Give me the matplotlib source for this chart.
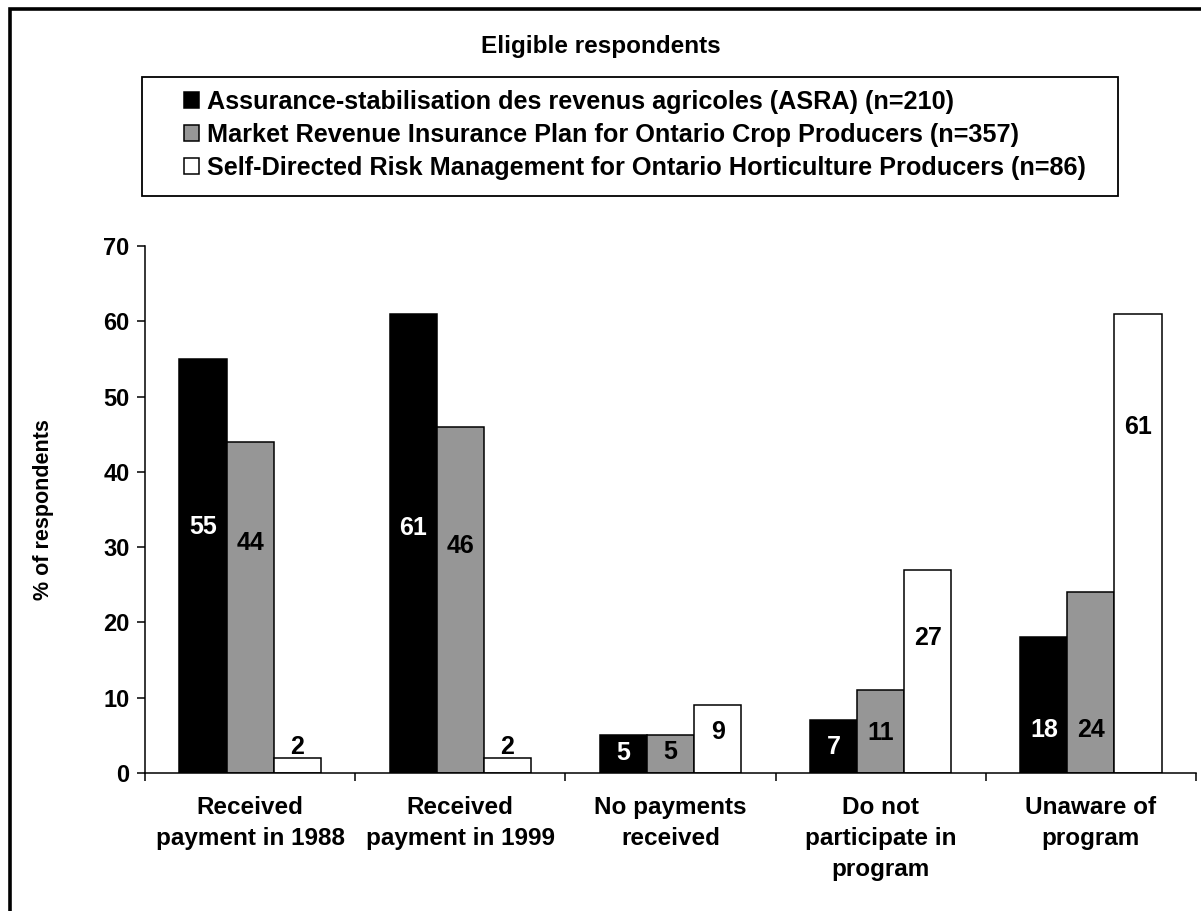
import matplotlib.pyplot as plt
import numpy as np
from matplotlib.patches import Rectangle, Patch

plt.rcParams['font.family'] = ['Liberation Sans', 'DejaVu Sans']
plt.rcParams['font.weight'] = 'bold'

categories = ['Received\npayment in 1988', 'Received\npayment in 1999',
              'No payments\nreceived', 'Do not\nparticipate in\nprogram',
              'Unaware of\nprogram']
series_names = ['Assurance-stabilisation des revenus agricoles (ASRA) (n=210)',
                'Market Revenue Insurance Plan for Ontario Crop Producers (n=357)',
                'Self-Directed Risk Management for Ontario Horticulture Producers (n=86)']
asra = [55, 61, 5, 7, 18]
mrip = [44, 46, 5, 11, 24]
sdrm = [2, 2, 9, 27, 61]

# where the value labels sit (data units), as placed in the original
asra_lab = [32.7, 32.5, 2.6, 3.4, 5.7]
mrip_lab = [30.5, 30.1, 2.8, 5.3, 5.7]
sdrm_lab = [3.5, 3.5, 5.4, 17.9, 46]

colors = ['black', '#969696', 'white']
text_colors = ['white', 'black', 'black']

fig = plt.figure(figsize=(12.01, 9.11), dpi=100)
ax = fig.add_axes([145/1201, 1-773/911, 1051/1201, (773-246)/911])

x = np.arange(len(categories))
w = 0.224
allvals = [asra, mrip, sdrm]
alllabs = [asra_lab, mrip_lab, sdrm_lab]
for i in range(3):
    pos = x + (i-1)*w
    ax.bar(pos, allvals[i], w, color=colors[i], edgecolor='black', linewidth=1.1)
    for j in range(len(x)):
        ax.text(pos[j], alllabs[i][j], str(allvals[i][j]), ha='center', va='center',
                fontsize=18, fontweight='bold', color=text_colors[i])

ax.set_xlim(-0.5, len(categories)-0.5)
ax.set_ylim(0, 70)
ax.set_yticks(np.arange(0, 71, 10))
ax.tick_params(axis='y', labelsize=17, length=6, width=1.1, direction='out', pad=5)
ax.set_xticks(np.arange(-0.5, len(categories)))
ax.set_xticklabels([])
ax.tick_params(axis='x', length=6, width=1.1, direction='out')
for j, c in enumerate(categories):
    ax.text(j, -3.0, c, ha='center', va='top', fontsize=17.5, fontweight='bold',
            linespacing=1.45)
ax.spines['top'].set_visible(False)
ax.spines['right'].set_visible(False)
ax.spines['left'].set_linewidth(1.1)
ax.spines['bottom'].set_linewidth(1.1)
ax.set_ylabel('% of respondents', fontsize=15.5, fontweight='bold', va='center')
ax.yaxis.set_label_coords(-0.097, 0.5)

fig.text(0.5, 1-47/911, 'Eligible respondents', ha='center', va='center',
         fontsize=17.5, fontweight='bold')

handles = [Patch(facecolor=colors[i], edgecolor='black', linewidth=1.1) for i in range(3)]
fig.legend(handles, series_names, loc='upper left',
           bbox_to_anchor=(184/1201, 1-90/911), frameon=False,
           handlelength=0.6, handleheight=0.6,
           handletextpad=0.32, labelspacing=0.36, borderpad=0, borderaxespad=0,
           prop={'weight': 'bold', 'size': 18.2})
fig.patches.append(Rectangle((142/1201, 1-196/911), (1118-142)/1201, (196-77)/911,
                             transform=fig.transFigure, fill=False,
                             edgecolor='black', linewidth=1.3))
# outer frame
fig.patches.append(Rectangle((10/1201, -0.05), 1.2, 1-9/911+0.05,
                             transform=fig.transFigure, fill=False,
                             edgecolor='black', linewidth=2.6))

fig.savefig('out.png', dpi=100)
